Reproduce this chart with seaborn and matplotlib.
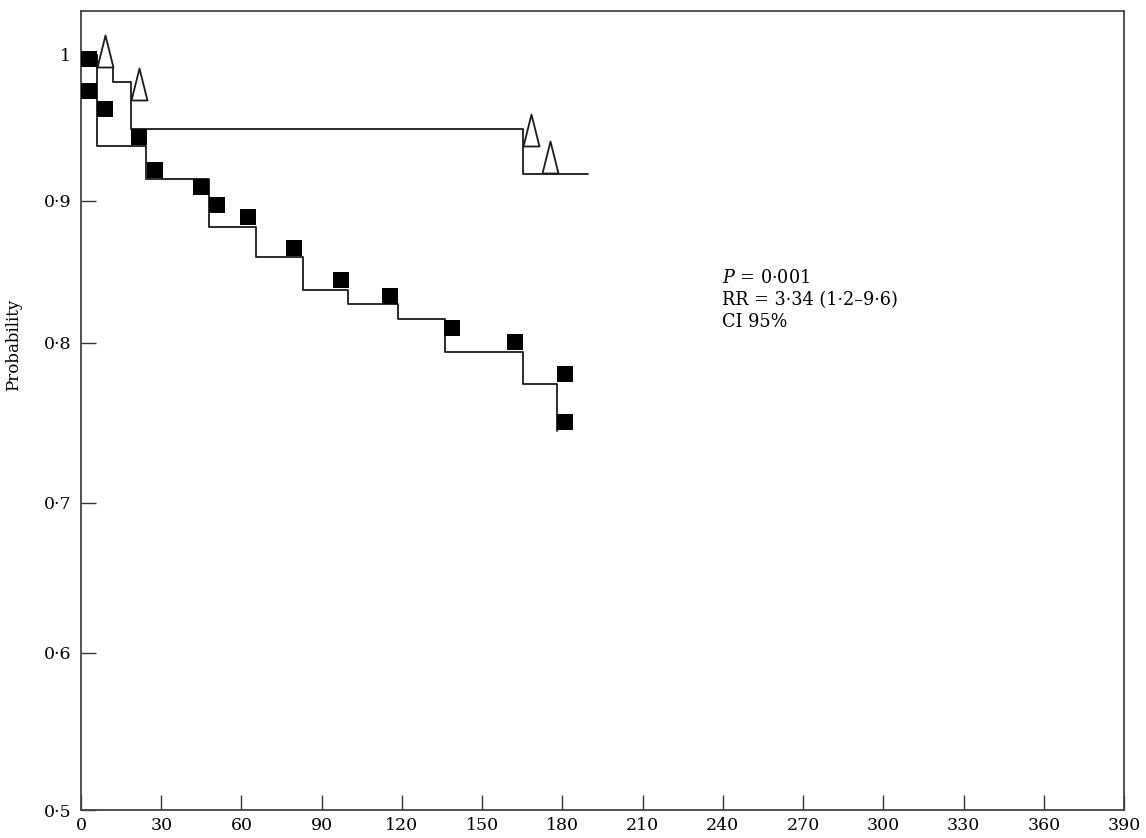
import numpy as np
import pandas as pd
import matplotlib
matplotlib.use("Agg")
import matplotlib.pyplot as plt
from matplotlib.path import Path
from matplotlib.ticker import FixedLocator, FixedFormatter
import seaborn as sns

# ---- data ----
# group with filled squares: step curve
sq_step_t = [0, 6, 24.3, 47.9, 65.4, 83.0, 99.8, 118.5, 136.1, 165.3, 178.0]
sq_step_p = [1.0, 0.9377, 0.9151, 0.8817, 0.8606, 0.8373, 0.8275, 0.8169, 0.7944, 0.7744, 0.745]
# filled square markers
sq_mark_t = [3.0, 3.0, 9.0, 21.7, 27.7, 44.9, 50.9, 62.5, 79.7, 97.2, 115.6, 138.7, 162.3, 181.0, 181.0]
sq_mark_p = [0.9973, 0.9753, 0.963, 0.9438, 0.9212, 0.9096, 0.8972, 0.8887, 0.8669, 0.8444,
             0.8331, 0.8106, 0.8007, 0.7806, 0.7506]
# group with open triangles: step curve
tr_step_t = [0, 6, 12.0, 18.7, 165.3, 189.6]
tr_step_p = [1.0, 0.9918, 0.9815, 0.9493, 0.9185, 0.9185]
# open triangle markers (base position)
tr_mark_t = [9.0, 21.7, 168.3, 175.4]
tr_mark_p = [0.9918, 0.9692, 0.9377, 0.9192]

x_ticks = list(range(0, 391, 30))
y_ticks = [0.5, 0.6, 0.7, 0.8, 0.9, 1.0]
y_tick_labels = ["0·5", "0·6", "0·7", "0·8", "0·9", "1"]
annot_lines = [r"$\mathit{P}$ = 0·001", "RR = 3·34 (1·2–9·6)", "CI 95%"]

# ---- style ----
sns.set_style("ticks")
plt.rcParams["font.family"] = ["DejaVu Serif"]
plt.rcParams["mathtext.fontset"] = "dejavuserif"

fig = plt.figure(figsize=(11.46, 8.38), dpi=100)
ax = fig.add_axes([81 / 1146, 28 / 838, 1043 / 1146, 799 / 838])

# the printed probability axis is not evenly spaced: reproduce it with a piecewise scale
knot_v = np.array([0.4, 0.5, 0.6, 0.7, 0.8, 0.9, 1.0, 1.2])
knot_p = np.array([-157, 0, 157, 307, 467, 609, 755, 1047], dtype=float)


def fwd(v):
    return np.interp(v, knot_v, knot_p)


def inv(p):
    return np.interp(p, knot_p, knot_v)


ax.set_yscale("function", functions=(fwd, inv))

ink = "#1a1a1a"
sq_line = pd.DataFrame({"t": sq_step_t, "p": sq_step_p})
tr_line = pd.DataFrame({"t": tr_step_t, "p": tr_step_p})
sns.lineplot(data=sq_line, x="t", y="p", drawstyle="steps-post", estimator=None, sort=False,
             color=ink, lw=1.3, ax=ax, zorder=2)
sns.lineplot(data=tr_line, x="t", y="p", drawstyle="steps-post", estimator=None, sort=False,
             color=ink, lw=1.3, ax=ax, zorder=2)

sns.scatterplot(x=sq_mark_t, y=sq_mark_p, marker="s", s=141, color="black",
                linewidth=0, ax=ax, zorder=3)

tri = Path([(-0.5, 0), (0.5, 0), (0, 2), (-0.5, 0)], closed=True)
sns.scatterplot(x=tr_mark_t, y=tr_mark_p, marker=tri, s=2116, facecolor="white",
                edgecolor=ink, linewidth=1.3, ax=ax, zorder=4)

ax.set_xlim(0, 390)
ax.set_ylim(0.5, 1.03)
ax.xaxis.set_major_locator(FixedLocator(x_ticks))
ax.set_xticklabels([str(v) for v in x_ticks])
ax.yaxis.set_major_locator(FixedLocator(y_ticks))
ax.yaxis.set_major_formatter(FixedFormatter(y_tick_labels))
ax.yaxis.set_minor_locator(FixedLocator([]))
ax.xaxis.set_minor_locator(FixedLocator([]))

ax.tick_params(axis="both", direction="in", length=11, width=1.0, color="#333",
               labelsize=12.5, labelcolor="black")
ax.tick_params(axis="x", pad=5)
ax.tick_params(axis="y", pad=7)

for sp in ax.spines.values():
    sp.set_visible(True)
    sp.set_color("#444")
    sp.set_linewidth(1.3)

ax.set_xlabel("")
ax.set_ylabel("Probability", fontsize=12, color="black")
ax.yaxis.set_label_coords(-0.057, 0.582)

for i, line in enumerate(annot_lines):
    ax.text(239.7, 0.666 - i * 0.0275, line, transform=ax.get_xaxis_transform(),
            fontsize=12.7, va="center", ha="left", color="black")

fig.savefig("out.png", dpi=100)
